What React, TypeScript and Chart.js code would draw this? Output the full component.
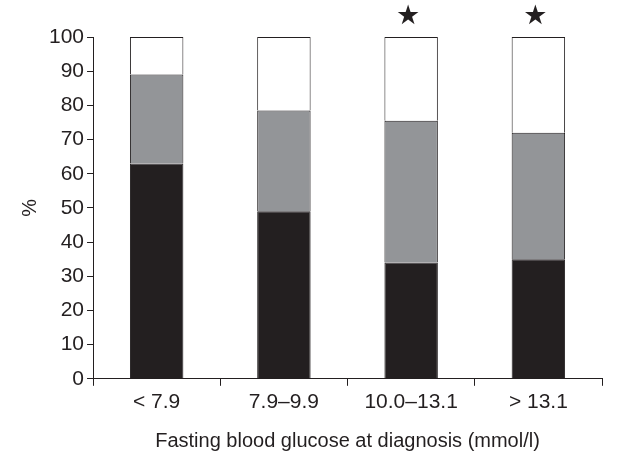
import React, { useEffect, useRef } from "react";
import { Chart, registerables } from "chart.js";

Chart.register(...registerables);

const categories = ["< 7.9", "7.9\u20139.9", "10.0\u201313.1", "> 13.1"];
const blackValues = [63, 49, 34, 35];
const grayValues = [26, 29.5, 41.5, 37];
const whiteValues = [11, 21.5, 24.5, 28];
const significance = ["", "", "\u2605", "\u2605"];
const yTicks = [0, 10, 20, 30, 40, 50, 60, 70, 80, 90, 100];

const INK = "#231f20";
const FONT = "'Liberation Sans', Arial, sans-serif";

const starPlugin = {
  id: "stars",
  afterDatasetsDraw(chart: any) {
    const ctx = chart.ctx;
    const x = chart.scales.x;
    const y = chart.scales.y;
    ctx.save();
    ctx.fillStyle = INK;
    ctx.font = `27px 'DejaVu Sans', ${FONT}`;
    ctx.textAlign = "center";
    ctx.textBaseline = "middle";
    significance.forEach((s, i) => {
      if (!s) return;
      ctx.fillText(s, x.getPixelForValue(i) - 3, y.getPixelForValue(100) - 20);
    });
    ctx.restore();
  },
};

export default function App() {
  const ref = useRef<HTMLCanvasElement>(null);
  useEffect(() => {
    if (!ref.current) return;
    const common = {
      borderColor: INK,
      borderWidth: 1,
      categoryPercentage: 1,
      barPercentage: 0.42,
    };
    const chart = new Chart(ref.current, {
      type: "bar",
      data: {
        labels: categories,
        datasets: [
          { label: "a", data: blackValues, backgroundColor: INK, ...common },
          { label: "b", data: grayValues, backgroundColor: "#939598", ...common },
          { label: "c", data: whiteValues, backgroundColor: "#ffffff", ...common },
        ],
      },
      options: {
        animation: false,
        responsive: false,
        layout: { padding: { top: 37, right: 18, left: 18, bottom: 3 } },
        plugins: { legend: { display: false }, tooltip: { enabled: false } },
        scales: {
          x: {
            stacked: true,
            grid: {
              drawOnChartArea: false,
              color: INK,
              tickLength: 7,
              offset: true,
            },
            border: { color: INK, width: 1 },
            ticks: { color: INK, font: { family: FONT, size: 21 }, padding: 4 },
            title: {
              display: true,
              text: "Fasting blood glucose at diagnosis (mmol/l)",
              color: INK,
              font: { family: FONT, size: 20 },
              padding: { top: 10, bottom: 0 },
            },
          },
          y: {
            stacked: true,
            min: 0,
            max: 100,
            afterBuildTicks: (axis: any) => {
              axis.ticks = yTicks.map((v) => ({ value: v }));
            },
            grid: { drawOnChartArea: false, color: INK, tickLength: 6 },
            border: { color: INK, width: 1 },
            ticks: { color: INK, font: { family: FONT, size: 21 }, padding: 3 },
            title: {
              display: true,
              text: "%",
              color: INK,
              font: { family: FONT, size: 20 },
              padding: { top: 0, bottom: 4 },
            },
          },
        },
      },
      plugins: [starPlugin],
    } as any);
    return () => chart.destroy();
  }, []);
  return (
    <div style={{ position: "fixed", left: 0, top: 0, width: 620, height: 456, background: "#fff" }}>
      <canvas ref={ref} width={620} height={456} />
    </div>
  );
}
